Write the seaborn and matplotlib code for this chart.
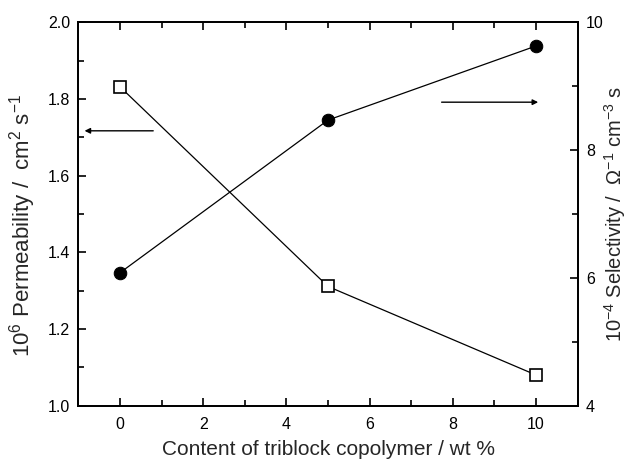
import matplotlib
matplotlib.use("Agg")
import matplotlib.pyplot as plt
import seaborn as sns
import pandas as pd
from matplotlib.ticker import MultipleLocator, FormatStrFormatter

# Membrane data vs triblock copolymer content
content = [0, 5, 10]                      # wt %
permeability = [1.832, 1.311, 1.080]      # 10^6 cm^2 s^-1
selectivity = [6.08, 8.47, 9.63]          # 10^-4 Ohm^-1 cm^-3 s

sns.set_theme(style="ticks")
plt.rcParams["font.family"] = ["Liberation Sans", "DejaVu Sans"]
plt.rcParams["mathtext.fontset"] = "custom"
plt.rcParams["mathtext.rm"] = "Liberation Sans"
plt.rcParams["mathtext.it"] = "Liberation Sans:italic"

df = pd.DataFrame({"content": content, "perm": permeability, "sel": selectivity})

fig = plt.figure(figsize=(6.3, 4.59), dpi=100)
ax = fig.add_axes([0.1243, 0.1161, 0.7927, 0.8353])
ax2 = ax.twinx()

sns.lineplot(data=df, x="content", y="perm", ax=ax, color="black", lw=0.9,
             marker="s", markersize=8, markerfacecolor="white",
             markeredgecolor="black", markeredgewidth=1.2, zorder=3)
sns.lineplot(data=df, x="content", y="sel", ax=ax2, color="black", lw=0.9,
             marker="o", markersize=9, markerfacecolor="black",
             markeredgecolor="black", zorder=3)

ax.set_xlim(-1, 11)
ax.set_ylim(1.0, 2.0)
ax2.set_ylim(4, 10)

ax.xaxis.set_major_locator(MultipleLocator(2))
ax.xaxis.set_minor_locator(MultipleLocator(1))
ax.yaxis.set_major_locator(MultipleLocator(0.2))
ax.yaxis.set_minor_locator(MultipleLocator(0.1))
ax2.yaxis.set_major_locator(MultipleLocator(2))
ax2.yaxis.set_minor_locator(MultipleLocator(1))
ax.yaxis.set_major_formatter(FormatStrFormatter("%.1f"))

for a in (ax, ax2):
    for s in a.spines.values():
        s.set_linewidth(1.3)
        s.set_color("black")

ax.tick_params(axis="x", which="both", direction="in", top=True, bottom=True,
               labelsize=11.5, pad=8, colors="black")
ax.tick_params(axis="y", which="both", direction="in", left=True, right=False,
               labelsize=11.5, pad=6, colors="black")
ax2.tick_params(axis="y", which="both", direction="in", right=True, left=False,
                labelsize=11.5, pad=6, colors="black")
for a in (ax, ax2):
    a.tick_params(which="major", length=6, width=1.2)
    a.tick_params(which="minor", length=4, width=1.2)

ax.set_xlabel("Content of triblock copolymer / wt %", fontsize=15, labelpad=6)
ax.set_ylabel(r"$10^6$ Permeability /  cm$^2$ s$^{-1}$", fontsize=16)
ax.yaxis.set_label_coords(-0.08, 0.47)
ax2.set_ylabel(r"$10^{-4}$ Selectivity /  $\Omega^{-1}$ cm$^{-3}$ s", fontsize=14.5)
ax2.yaxis.set_label_coords(1.048, 0.5)

# Arrows pointing to the axis each series belongs to
ax.annotate("", xy=(-0.85, 1.717), xytext=(0.8, 1.717),
            arrowprops=dict(arrowstyle="-|>", color="black", lw=1.0,
                            mutation_scale=8, shrinkA=0, shrinkB=0))
ax2.annotate("", xy=(10.05, 8.75), xytext=(7.73, 8.75),
             arrowprops=dict(arrowstyle="-|>", color="black", lw=1.0,
                             mutation_scale=8, shrinkA=0, shrinkB=0))

fig.savefig("out.png", dpi=100)
